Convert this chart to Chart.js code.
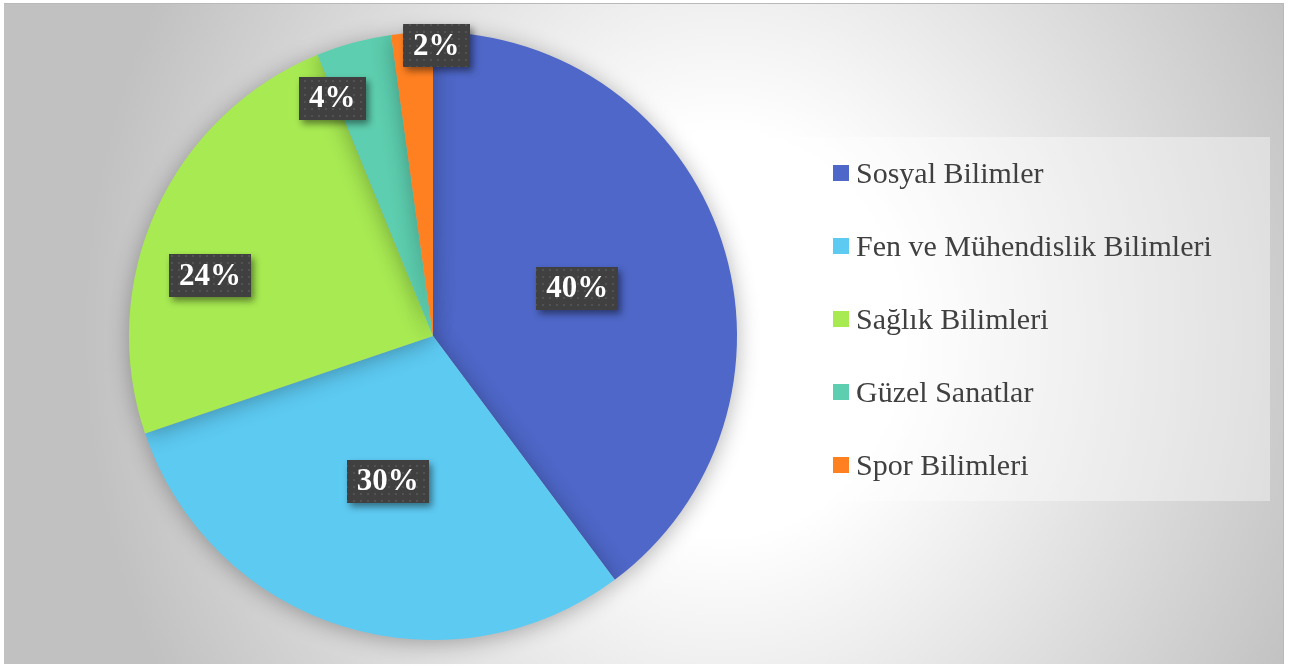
<!DOCTYPE html>
<html>
<head>
<meta charset="utf-8">
<script src="https://cdn.jsdelivr.net/npm/chart.js@4"></script>
<style>
    html, body { margin: 0; padding: 0; background: #ffffff; }
    #wrap { position: relative; width: 1298px; height: 666px; overflow: hidden; }
    #frame {
        position: absolute; left: 4px; top: 3px; width: 1279px; height: 660px;
        border-top: 1px solid #b9b9b9; border-right: 1px solid #b9b9b9;
        background: radial-gradient(ellipse 640px 720px at 720px 330px, #ffffff 28%, #c1c1c1 100%);
    }
    #chart-box { position: absolute; left: 0; top: 0; width: 1298px; height: 666px; }
    #legend {
        position: absolute; left: 775px; top: 137px; width: 495px; height: 364px;
        background: rgba(255, 255, 255, 0.38);
    }
    .item {
        position: absolute; left: 58px; height: 16px;
        display: flex; align-items: center;
        font-family: "Liberation Serif", serif; font-size: 30px; color: #404040;
        white-space: nowrap;
    }
    .swatch { width: 16px; height: 16px; margin-right: 7px; flex: none; }
</style>
</head>
<body>
<div id="wrap">
    <div id="frame"></div>
    <div id="chart-box"><canvas id="pie-chart"></canvas></div>
    <div id="legend"></div>
</div>
<script>
// Chart data (shares; labels show them rounded)
const categories = ['Sosyal Bilimler', 'Fen ve Mühendislik Bilimleri', 'Sağlık Bilimleri', 'Güzel Sanatlar', 'Spor Bilimleri'];
const shares = [39.8, 30.0, 24.0, 4.0, 2.2];
const sliceColors = ['#4e67c8', '#5dcaf2', '#a7ea52', '#5dceaf', '#ff8021'];

// Label placement (fraction of radius, angle shift in degrees) - Excel "best fit" look
const labelRadius = [0.5, 0.5, 0.76, 0.85, 0.955];
const labelShift = [0, 0, -9.4, -7.8, 4.6];

// Dotted dark fill for the data label boxes
function makeDotPattern(ctx) {
    const tile = document.createElement('canvas');
    tile.width = 7;
    tile.height = 7;
    const t = tile.getContext('2d');
    t.fillStyle = '#404040';
    t.fillRect(0, 0, 7, 7);
    t.fillStyle = '#525252';
    t.fillRect(3, 3, 2, 2);
    return ctx.createPattern(tile, 'repeat');
}

// Soft shadow under the pie
const pieShadow = {
    id: 'pieShadow',
    beforeDatasetsDraw(chart) {
        const ctx = chart.ctx;
        ctx.save();
        ctx.shadowColor = 'rgba(0, 0, 0, 0.30)';
        ctx.shadowBlur = 22;
        ctx.shadowOffsetX = 0;
        ctx.shadowOffsetY = 3;
    },
    afterDatasetsDraw(chart) {
        chart.ctx.restore();
    }
};

// Boxed percentage labels
const boxLabels = {
    id: 'boxLabels',
    afterDraw(chart) {
        const ctx = chart.ctx;
        const meta = chart.getDatasetMeta(0);
        const values = chart.data.datasets[0].data;
        const total = values.reduce((a, b) => a + b, 0);
        const pattern = makeDotPattern(ctx);
        ctx.save();
        ctx.font = 'bold 31px "Liberation Serif", serif';
        ctx.textAlign = 'center';
        ctx.textBaseline = 'middle';
        meta.data.forEach(function (arc, i) {
            const p = arc.getProps(['x', 'y', 'startAngle', 'endAngle', 'outerRadius'], true);
            const mid = (p.startAngle + p.endAngle) / 2 + labelShift[i] * Math.PI / 180;
            const cx = p.x + Math.cos(mid) * p.outerRadius * labelRadius[i];
            const cy = p.y + Math.sin(mid) * p.outerRadius * labelRadius[i];
            const text = Math.round(values[i] / total * 100) + '%';
            const w = ctx.measureText(text).width + 20;
            const h = 43;
            ctx.save();
            ctx.shadowColor = 'rgba(0, 0, 0, 0.45)';
            ctx.shadowBlur = 7;
            ctx.shadowOffsetX = 3;
            ctx.shadowOffsetY = 4;
            ctx.fillStyle = pattern;
            ctx.fillRect(Math.round(cx - w / 2), Math.round(cy - h / 2), Math.round(w), h);
            ctx.restore();
            ctx.fillStyle = '#ffffff';
            ctx.fillText(text, cx, cy + 1);
        });
        ctx.restore();
    }
};

const pieCtx = document.getElementById('pie-chart').getContext('2d');
const pieChart = new Chart(pieCtx, {
    type: 'pie',
    data: {
        labels: categories,
        datasets: [{
            data: shares,
            backgroundColor: sliceColors,
            borderWidth: 0
        }]
    },
    options: {
        responsive: true,
        maintainAspectRatio: false,
        animation: false,
        layout: {
            padding: { left: 129, right: 561, top: 32, bottom: 26 }
        },
        plugins: {
            legend: { display: false },
            tooltip: { enabled: false }
        }
    },
    plugins: [pieShadow, boxLabels]
});

// HTML legend built from the chart data
const legendEl = document.getElementById('legend');
pieChart.data.labels.forEach(function (label, i) {
    const item = document.createElement('div');
    item.className = 'item';
    item.style.top = (28 + i * 72.9) + 'px';
    const sw = document.createElement('span');
    sw.className = 'swatch';
    sw.style.background = pieChart.data.datasets[0].backgroundColor[i];
    const txt = document.createElement('span');
    txt.textContent = label;
    item.appendChild(sw);
    item.appendChild(txt);
    legendEl.appendChild(item);
});
</script>
</body>
</html>
